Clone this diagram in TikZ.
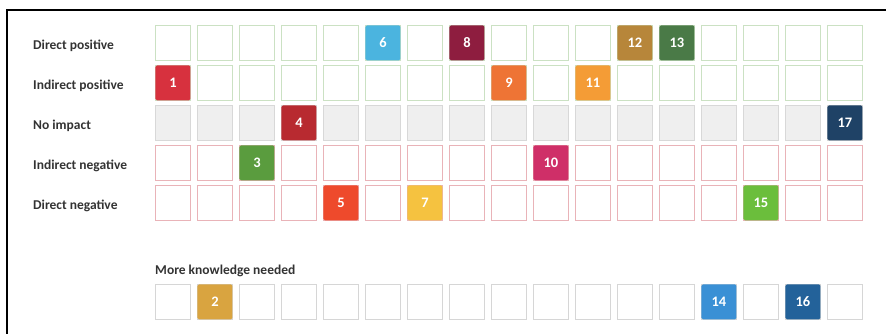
\documentclass[tikz,border=0pt]{standalone}
\usepackage{fontspec}
\setmainfont{Carlito}
\definecolor{labtext}{HTML}{333333}
\definecolor{posline}{HTML}{CBE1C3}
\definecolor{negline}{HTML}{E9B3B8}
\definecolor{nofill}{HTML}{EFEFEF}
\definecolor{noline}{HTML}{D8D8D8}
\definecolor{kline}{HTML}{D6D6D6}
\definecolor{sdgA}{HTML}{D7313E}
\definecolor{sdgB}{HTML}{D9A440}
\definecolor{sdgC}{HTML}{5A9C3E}
\definecolor{sdgD}{HTML}{B82A30}
\definecolor{sdgE}{HTML}{EE4A2C}
\definecolor{sdgF}{HTML}{4BB4DF}
\definecolor{sdgG}{HTML}{F5C240}
\definecolor{sdgH}{HTML}{8E1D3F}
\definecolor{sdgI}{HTML}{EE7435}
\definecolor{sdgJ}{HTML}{CF2F68}
\definecolor{sdgK}{HTML}{F49C36}
\definecolor{sdgL}{HTML}{B7863A}
\definecolor{sdgM}{HTML}{4A7A47}
\definecolor{sdgN}{HTML}{3A90D5}
\definecolor{sdgO}{HTML}{6BBE3C}
\definecolor{sdgP}{HTML}{23629A}
\definecolor{sdgQ}{HTML}{1F4266}
\begin{document}
\begin{tikzpicture}[x=1pt,y=-1pt,
  cellbox/.style={minimum width=35pt,minimum height=35pt,inner sep=0pt,anchor=north west,line width=0.9pt},
  posbox/.style={cellbox,draw=posline,fill=white},
  negbox/.style={cellbox,draw=negline,fill=white},
  nobox/.style={cellbox,draw=noline,fill=nofill},
  knowbox/.style={cellbox,draw=kline,fill=white},
  sdg/.style={cellbox,rounded corners=1.5pt,text=white,font=\bfseries\fontsize{14.5}{14}\selectfont},
  rowlab/.style={anchor=west,inner sep=0pt,text=labtext,font=\bfseries\fontsize{13.5}{14}\selectfont}]
\useasboundingbox (0,0) rectangle (886,334);
\draw[line width=2pt,black] (7,334) -- (7,10) -- (886,10);
\foreach \r/\lab/\sty in {1/Direct positive/posbox,2/Indirect positive/posbox,3/No impact/nobox,4/Indirect negative/negbox,5/Direct negative/negbox}{
  \node[rowlab] (lab\r) at (33,{25+(\r-1)*40+21}) {\lab};
  \foreach \c in {1,...,17}{
    \node[\sty] (c\r-\c) at ({155+(\c-1)*42},{25+(\r-1)*40}) {};
  }
}
\node[rowlab] (labk) at (155,271) {More knowledge needed};
\foreach \c in {1,...,17}{
  \node[knowbox] (k-\c) at ({155+(\c-1)*42},284) {};
}
% coloured goals
\node[sdg,fill=sdgA] (g1) at (c2-1.north west) {1};
\node[sdg,fill=sdgB] (g2) at (k-2.north west) {2};
\node[sdg,fill=sdgC] (g3) at (c4-3.north west) {3};
\node[sdg,fill=sdgD] (g4) at (c3-4.north west) {4};
\node[sdg,fill=sdgE] (g5) at (c5-5.north west) {5};
\node[sdg,fill=sdgF] (g6) at (c1-6.north west) {6};
\node[sdg,fill=sdgG] (g7) at (c5-7.north west) {7};
\node[sdg,fill=sdgH] (g8) at (c1-8.north west) {8};
\node[sdg,fill=sdgI] (g9) at (c2-9.north west) {9};
\node[sdg,fill=sdgJ] (g10) at (c4-10.north west) {10};
\node[sdg,fill=sdgK] (g11) at (c2-11.north west) {11};
\node[sdg,fill=sdgL] (g12) at (c1-12.north west) {12};
\node[sdg,fill=sdgM] (g13) at (c1-13.north west) {13};
\node[sdg,fill=sdgN] (g14) at (k-14.north west) {14};
\node[sdg,fill=sdgO] (g15) at (c5-15.north west) {15};
\node[sdg,fill=sdgP] (g16) at (k-16.north west) {16};
\node[sdg,fill=sdgQ] (g17) at (c3-17.north west) {17};
\end{tikzpicture}
\end{document}
